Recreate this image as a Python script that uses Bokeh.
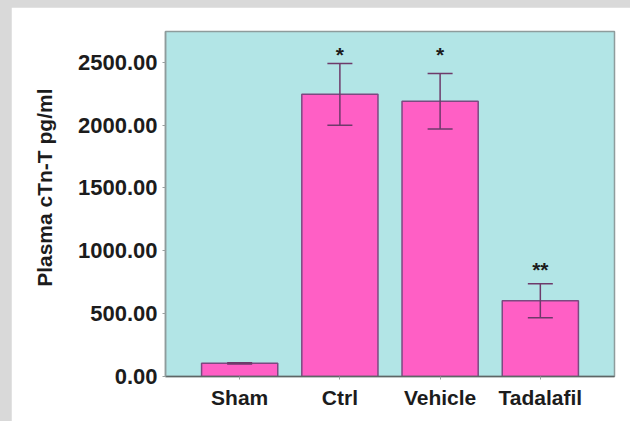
from bokeh.plotting import figure
from bokeh.models import FactorRange, ColumnDataSource, Whisker, TeeHead, NumeralTickFormatter, FixedTicker, Range1d, Title
from bokeh.layouts import column
from bokeh.embed import file_html
from bokeh.resources import INLINE
from bokeh.core.properties import value

groups = ["Sham", "Ctrl", "Vehicle", "Tadalafil"]
means = [105, 2245, 2190, 603]
errors = [5, 245, 220, 135]
marks = ["", "*", "*", "**"]
mark_y = [0, 2564, 2560, 852]
y_ticks = [0, 500, 1000, 1500, 2000, 2500]
y_max = 2745
y_title = "Plasma cTn-T pg/ml"

FONT = "Liberation Sans"
TEXT = "#1c1c1c"

src = ColumnDataSource(dict(
    group=groups,
    mean=means,
    upper=[m + e for m, e in zip(means, errors)],
    lower=[m - e for m, e in zip(means, errors)],
    mark=marks,
    mark_y=mark_y,
))

p = figure(
    x_range=FactorRange(factors=groups, range_padding=0.12),
    y_range=Range1d(0, y_max),
    width=619, height=414,
    output_backend="svg", toolbar_location=None,
    min_border_left=154, min_border_right=16, min_border_top=24, min_border_bottom=45,
)
p.margin = (7, 0, 0, 11)
p.background_fill_color = "#b2e5e6"
p.border_fill_color = "white"
p.outline_line_color = "#8e9c9c"
p.outline_line_width = 1.5
p.xgrid.visible = False
p.ygrid.visible = False

p.vbar(x="group", top="mean", width=0.76, source=src,
       fill_color="#ff5fc5", line_color="#7b4a80", line_width=1.5)

err_col = "#6e3a6a"
w = Whisker(base="group", upper="upper", lower="lower", source=src,
            line_color=err_col, line_width=1.5, level="overlay",
            upper_head=TeeHead(size=25, line_color=err_col, line_width=1.5),
            lower_head=TeeHead(size=25, line_color=err_col, line_width=1.5))
p.add_layout(w)

p.text(x="group", y="mark_y", text="mark", source=src,
       text_font=value(FONT), text_font_style="bold", text_font_size="21px",
       text_align="center", text_baseline="alphabetic", text_color=TEXT)

ya = p.yaxis[0]
ya.ticker = FixedTicker(ticks=y_ticks)
ya.formatter = NumeralTickFormatter(format="0.00")
ya.major_label_text_font = FONT
ya.major_label_text_font_style = "bold"
ya.major_label_text_font_size = "22px"
ya.major_label_text_color = TEXT
ya.major_label_standoff = 5
ya.axis_line_color = "#8e9c9c"
ya.axis_line_width = 1.5
ya.major_tick_line_color = "#9aa0a0"
ya.major_tick_out = 3
ya.major_tick_in = 0
ya.minor_tick_line_color = None

title = Title(text=y_title, align="right", offset=57, standoff=37,
              text_font=FONT, text_font_style="bold", text_font_size="21px",
              text_color=TEXT)
p.add_layout(title, "left")

xa = p.xaxis[0]
xa.major_label_text_font = FONT
xa.major_label_text_font_style = "bold"
xa.major_label_text_font_size = "21px"
xa.major_label_text_color = TEXT
xa.major_label_standoff = 6
xa.axis_line_color = "#5e6666"
xa.axis_line_width = 1.5
xa.major_tick_line_color = "#9aa0a0"
xa.major_tick_out = 3
xa.major_tick_in = 0

layout = column(p, width=630, height=421, styles={"background-color": "#d9d9d9"})

open("out.html", "w").write(file_html(layout, INLINE))
